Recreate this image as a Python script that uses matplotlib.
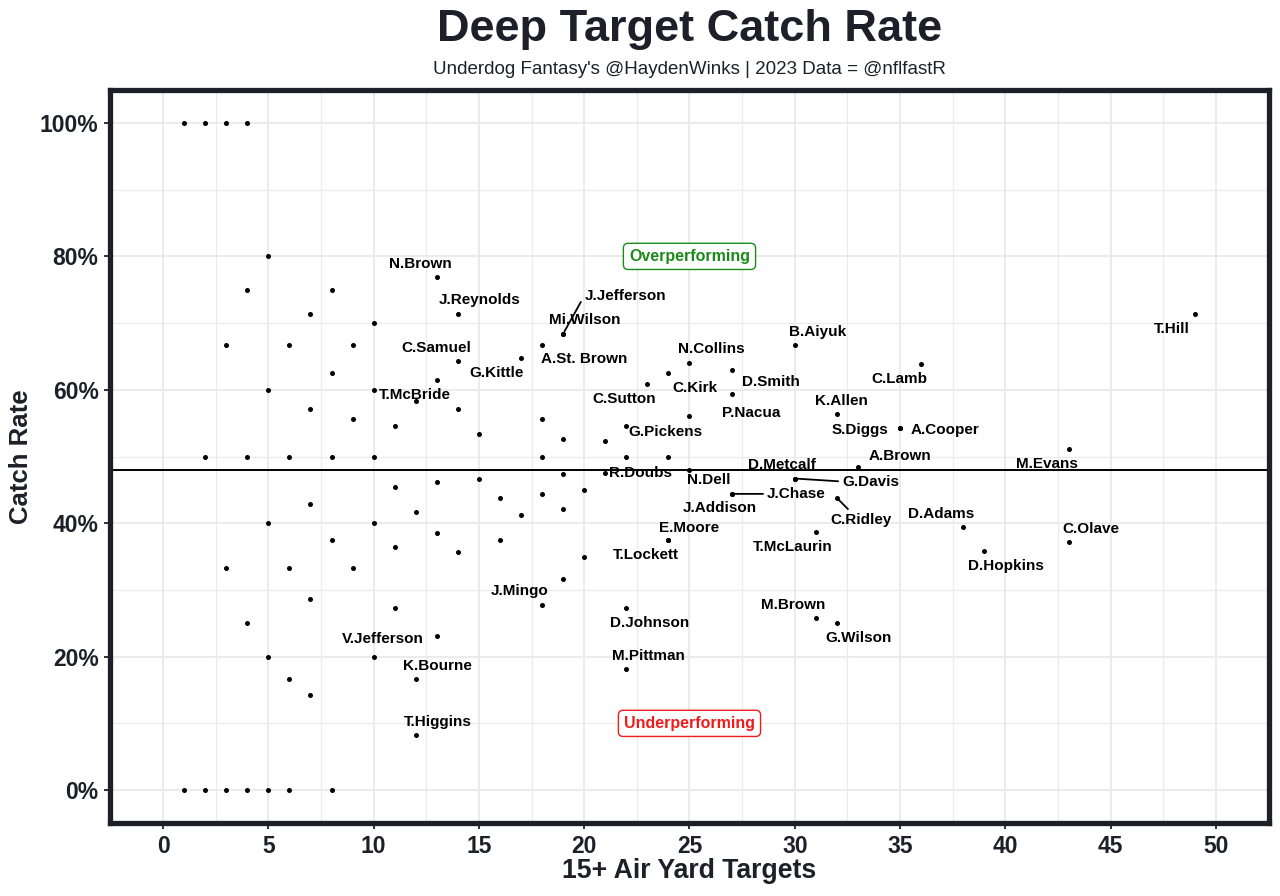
import matplotlib
matplotlib.use("Agg")
import matplotlib.pyplot as plt
from matplotlib.ticker import MultipleLocator, FuncFormatter

plt.rcParams['font.family'] = ['Liberation Sans', 'DejaVu Sans']

# ---------------- data ----------------
# unlabeled players: 15+ air yard targets and catch rate (%)
other_targets = [1, 2, 3, 4,
                 1, 2, 3, 4, 5, 6, 8,
                 5, 4, 8, 7, 10, 3, 6, 9, 8, 13, 5, 12, 7, 14,
                 9, 11, 15, 18,
                 2, 4, 6, 8, 10, 18,
                 11, 13, 15, 16, 18, 17, 7, 12,
                 5, 10, 8, 11, 13, 14, 16,
                 3, 6, 9, 7, 11, 4, 5, 10, 6, 7,
                 25, 19, 21, 22, 24, 19, 20, 19, 20, 19]
other_rates = [100, 100, 100, 100,
               0, 0, 0, 0, 0, 0, 0,
               80, 75, 75, 71.4, 70, 66.7, 66.7, 66.7, 62.5, 61.5, 60, 58.3, 57.1, 57.1,
               55.6, 54.5, 53.3, 55.6,
               50, 50, 50, 50, 50, 50,
               45.5, 46.2, 46.7, 43.8, 44.4, 41.2, 42.9, 41.7,
               40, 40, 37.5, 36.4, 38.5, 35.7, 37.5,
               33.3, 33.3, 33.3, 28.6, 27.3, 25, 20, 20, 16.7, 14.3,
               56.0, 52.6, 52.4, 50, 50, 47.4, 45.0, 42.1, 35.0, 31.6]

# labeled players
player_names = ["N.Brown", "J.Reynolds", "J.Jefferson", "Mi.Wilson", "A.St. Brown",
                "C.Samuel", "G.Kittle", "T.McBride", "N.Collins", "C.Kirk",
                "D.Smith", "C.Sutton", "P.Nacua", "B.Aiyuk", "C.Lamb",
                "T.Hill", "K.Allen", "S.Diggs", "A.Cooper", "G.Pickens",
                "A.Brown", "M.Evans", "R.Doubs", "N.Dell", "D.Metcalf",
                "G.Davis", "J.Chase", "J.Addison", "C.Ridley", "D.Adams",
                "C.Olave", "D.Hopkins", "E.Moore", "T.Lockett", "T.McLaurin",
                "J.Mingo", "D.Johnson", "M.Pittman", "M.Brown", "G.Wilson",
                "V.Jefferson", "K.Bourne", "T.Higgins"]
player_targets = [13, 14, 19, 19, 18,
                  14, 17, 10, 25, 24,
                  27, 23, 27, 30, 36,
                  49, 32, 35, 35, 22,
                  33, 43, 21, 25, 30,
                  30, 27, 27, 32, 38,
                  43, 39, 24, 24, 31,
                  18, 22, 22, 31, 32,
                  13, 12, 12]
player_rates = [76.9, 71.4, 68.4, 68.4, 66.7,
                64.3, 64.7, 60.0, 64.0, 62.5,
                63.0, 60.9, 59.3, 66.7, 63.9,
                71.4, 56.3, 54.3, 54.3, 54.5,
                48.5, 51.2, 47.6, 48.0, 46.7,
                46.7, 44.4, 44.4, 43.8, 39.5,
                37.2, 35.9, 37.5, 37.5, 38.7,
                27.8, 27.3, 18.2, 25.8, 25.0,
                23.1, 16.7, 8.3]

avg_rate = 48.0
x_ticks = [0, 5, 10, 15, 20, 25, 30, 35, 40, 45, 50]
y_ticks = [0, 20, 40, 60, 80, 100]

# ---------------- label layout (pixel offsets of label centre, y down) ----------------
label_offsets = {
    "N.Brown": (-16, -13), "J.Reynolds": (22, -14), "J.Jefferson": (62, -38),
    "Mi.Wilson": (22, -14), "A.St. Brown": (42, 14), "C.Samuel": (-22, -13),
    "G.Kittle": (-24, 15), "T.McBride": (41, 5), "N.Collins": (22, -14),
    "C.Kirk": (27, 15), "D.Smith": (39, 12), "C.Sutton": (-23, 15),
    "P.Nacua": (20, 19), "B.Aiyuk": (23, -13), "C.Lamb": (-22, 15),
    "T.Hill": (-23, 15), "K.Allen": (5, -13), "S.Diggs": (-40, 2),
    "A.Cooper": (45, 2), "G.Pickens": (39, 6), "A.Brown": (42, -11),
    "M.Evans": (-22, 15), "R.Doubs": (35, 0), "N.Dell": (19, 10),
    "D.Metcalf": (-13, -14), "G.Davis": (76, 3), "J.Chase": (65, 0),
    "J.Addison": (-12, 14), "C.Ridley": (24, 22), "D.Adams": (-22, -13),
    "C.Olave": (22, -13), "D.Hopkins": (22, 15), "E.Moore": (21, -12),
    "T.Lockett": (-23, 15), "T.McLaurin": (-23, 15), "J.Mingo": (-22, -14),
    "D.Johnson": (23, 15), "M.Pittman": (22, -13), "M.Brown": (-23, -13),
    "G.Wilson": (22, 15), "V.Jefferson": (-54, 3), "K.Bourne": (22, -13),
    "T.Higgins": (22, -13),
}
segment_relpos = {"J.Jefferson": (0.0, 0.5), "G.Davis": (0.0, 0.5),
                  "J.Chase": (0.0, 0.5), "C.Ridley": (0.35, 1.0)}

dark = '#1d2029'

fig = plt.figure(figsize=(12.8, 8.96), dpi=100)
ax = fig.add_axes([0.08625, 0.0810, 0.9048, 0.8190])

ax.set_xlim(-2.5, 52.5)
ax.set_ylim(-5, 105)

ax.xaxis.set_major_locator(MultipleLocator(5))
ax.xaxis.set_minor_locator(MultipleLocator(2.5))
ax.yaxis.set_major_locator(MultipleLocator(20))
ax.yaxis.set_minor_locator(MultipleLocator(10))
ax.set_xticks(x_ticks)
ax.set_yticks(y_ticks)
ax.yaxis.set_major_formatter(FuncFormatter(lambda v, p: f"{int(v)}%"))

ax.grid(which='major', color='#ebebeb', lw=1.4, zorder=0)
ax.grid(which='minor', color='#ebebeb', lw=0.9, zorder=0)
ax.set_axisbelow(True)

for s in ax.spines.values():
    s.set_linewidth(3.8)
    s.set_color(dark)

ax.tick_params(axis='both', which='major', length=4, width=1.3, color=dark,
               labelsize=16.5, labelcolor=dark, pad=4.5)
ax.tick_params(axis='both', which='minor', length=0)
for lab in ax.get_xticklabels() + ax.get_yticklabels():
    lab.set_fontweight('bold')

# average line
ax.axhline(avg_rate, color='black', lw=1.4, zorder=2)

# points
ax.scatter(other_targets, other_rates, s=13, color='black', zorder=3, linewidths=0)
ax.scatter(player_targets, player_rates, s=13, color='black', zorder=3, linewidths=0)

# labels
for name, xv, yv in zip(player_names, player_targets, player_rates):
    dx, dy = label_offsets[name]
    kw = {}
    if name in segment_relpos:
        kw['arrowprops'] = dict(arrowstyle='-', color='black', lw=1.3,
                                shrinkA=1, shrinkB=2, relpos=segment_relpos[name])
    ax.annotate(name, xy=(xv, yv), xytext=(dx, -dy), textcoords='offset pixels',
                ha='center', va='center', fontsize=11, fontweight='bold',
                color='black', zorder=4, **kw)

# performance boxes
ax.text(25, 80, "Overperforming", ha='center', va='center', fontsize=11.5,
        fontweight='bold', color='#1a8a1a', zorder=5,
        bbox=dict(boxstyle='round,pad=0.35,rounding_size=0.3', fc='white',
                  ec='#1a8a1a', lw=1.0))
ax.text(25, 10, "Underperforming", ha='center', va='center', fontsize=11.5,
        fontweight='bold', color='#ee1c1c', zorder=5,
        bbox=dict(boxstyle='round,pad=0.35,rounding_size=0.3', fc='white',
                  ec='#ee1c1c', lw=1.0))

# titles
panel_cx = 0.08625 + 0.9048 / 2
fig.text(panel_cx, 1 - 29 / 896, "Deep Target Catch Rate", ha='center', va='center',
         fontsize=32.5, fontweight='bold', color=dark)
fig.text(panel_cx, 1 - 70 / 896, "Underdog Fantasy's @HaydenWinks | 2023 Data = @nflfastR",
         ha='center', va='center', fontsize=13.5, color=dark)
fig.text(panel_cx, 1 - 871 / 896, "15+ Air Yard Targets", ha='center', va='center',
         fontsize=19.2, fontweight='bold', color=dark)
fig.text(21 / 1280, 0.081 + 0.819 / 2, "Catch Rate", ha='center', va='center',
         rotation=90, fontsize=18.5, fontweight='bold', color=dark)

fig.savefig("out.png", dpi=100, facecolor='white')
